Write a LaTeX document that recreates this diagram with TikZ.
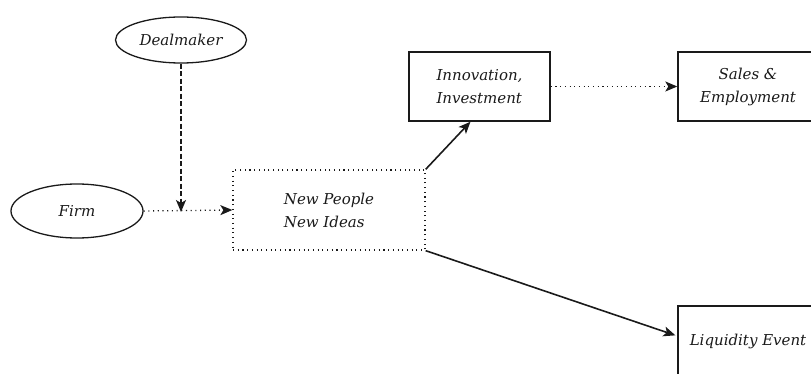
\documentclass[tikz,border=0pt]{standalone}
\usepackage{fontspec}
\setmainfont{DejaVu Serif}
\usetikzlibrary{arrows.meta,shapes.geometric}
\definecolor{ink}{HTML}{1A1A1A}
\begin{document}
\begin{tikzpicture}[x=1pt,y=-1pt,
  every node/.style={font=\itshape\fontsize{15}{23}\selectfont, text=ink},
  oval/.style={draw=ink, line width=1.3pt, ellipse, inner sep=0pt},
  box/.style={draw=ink, line width=1.4pt, rectangle, inner sep=0pt, align=left},
  dotbox/.style={draw=ink, line width=1.3pt, rectangle, inner sep=0pt, align=left,
    dash pattern=on 1.1pt off 3.6pt},
  tip/.style={-{Stealth[length=12pt,width=10pt,inset=3pt]}},
  solidarrow/.style={tip, draw=ink, line width=1.6pt},
  dotarrow/.style={tip, draw=ink, line width=1.3pt, dash pattern=on 1.1pt off 3.6pt},
  dasharrow/.style={tip, draw=ink, line width=1.4pt, dash pattern=on 5pt off 2.5pt}]
\useasboundingbox (0,0) rectangle (811,374);
\clip (0,0) rectangle (811,374);

% actors
\node[oval, minimum width=131, minimum height=46] (deal) at (181,40) {Dealmaker};
\node[oval, minimum width=132, minimum height=54] (firm) at (77,211) {Firm};

% central mechanism
\node[dotbox, minimum width=192, minimum height=80] (newp) at (329,210) {New People\\New Ideas};

% outcomes
\node[box, minimum width=141, minimum height=69] (innov) at (479.5,86.5) {Innovation,\\Investment};
\node[box, align=center, minimum width=140, minimum height=69] (sales) at (748,86.5) {Sales \&\\Employment};
\node[box, minimum width=140, minimum height=70] (liq) at (748,341) {Liquidity Event};

% connectors
\coordinate (join) at (181,211);
\draw[dotarrow] (firm.east) -- (newp.west);
\draw[dasharrow] (deal.south) -- ([yshift=-1]join);
\draw[solidarrow] (newp.north east) -- ([xshift=-9]innov.south);
\draw[solidarrow, shorten >=2pt] (newp.south east) -- ([yshift=5]liq.west);
\draw[dotarrow] (innov.east) -- (sales.west);
\end{tikzpicture}
\end{document}
